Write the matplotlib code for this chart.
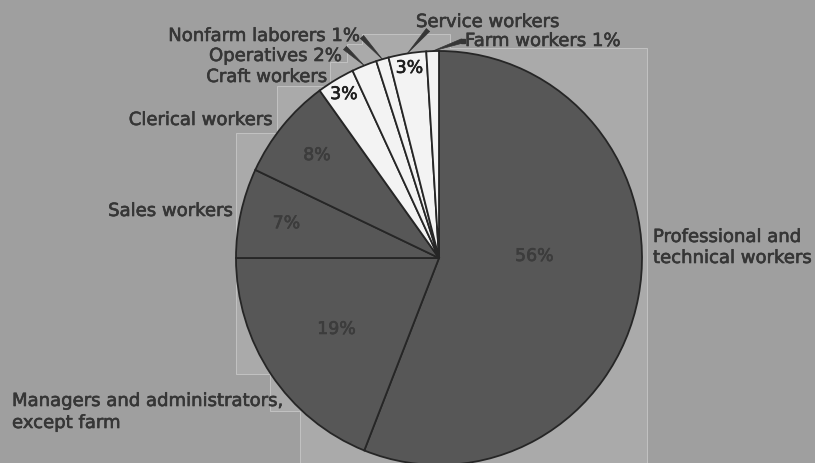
import numpy as np
import matplotlib.pyplot as plt
import matplotlib.patheffects as pe
from matplotlib.patches import Polygon

# Employment share by occupation group (percent)
categories = ["Professional and\ntechnical workers", "Managers and administrators,\nexcept farm",
              "Sales workers", "Clerical workers", "Craft workers", "Operatives",
              "Nonfarm laborers", "Service workers", "Farm workers"]
shares = [56, 19, 7, 8, 3, 2, 1, 3, 1]
shaded = [True, True, True, True, False, False, False, False, False]

W, H = 815, 464
BG = "#9f9f9f"
SCREEN = "#aaaaaa"
DARK = "#575757"
LIGHT = "#f3f3f3"
LINE = "#262626"
TEXT = "#363636"

fig = plt.figure(figsize=(W / 100, H / 100), dpi=100)
fig.patch.set_facecolor(BG)

# full-figure axes in pixel units for the screened backdrop, labels and leaders
bg = fig.add_axes([0, 0, 1, 1])
bg.set_xlim(0, W)
bg.set_ylim(H, 0)
bg.axis("off")
outline = [(362, 35), (450, 35), (450, 49), (647, 49), (647, 464), (300, 464), (300, 412),
           (270, 412), (270, 375), (236, 375), (236, 134), (277, 134), (277, 87), (330, 87),
           (330, 63), (347, 63), (347, 45), (362, 45)]
bg.add_patch(Polygon(outline, closed=True, fc=SCREEN, ec="#c2c2c2", lw=0.7, zorder=0))

# pie axes, slightly taller than wide like the printed chart
cx, cy, rx, ry = 439, 259, 203, 207
pie_ax = fig.add_axes([(cx - rx) / W, (H - cy - ry) / H, 2 * rx / W, 2 * ry / H])
wedges, _ = pie_ax.pie(shares, colors=[DARK if s else LIGHT for s in shaded],
                       startangle=90, counterclock=False,
                       wedgeprops=dict(edgecolor=LINE, linewidth=1.3))
pie_ax.set_aspect("auto")
pie_ax.set_xlim(-1, 1)
pie_ax.set_ylim(-1, 1)
pie_ax.axis("off")
for w in wedges:
    w.set_clip_on(False)


def mid_angle(i, shift=0.0):
    w = wedges[i]
    return np.deg2rad((w.theta1 + w.theta2) / 2 + shift)


def heavy(color):
    # thicken the glyphs a little, like a medium-weight face
    return [pe.withStroke(linewidth=0.45, foreground=color)]


# percentages printed inside the slices: (slice, radius, angle shift)
inner = [(0, 0.47, 12), (1, 0.61, 0), (2, 0.77, 0), (3, 0.78, 0), (4, 0.92, 0), (7, 0.93, 0)]
for i, r, shift in inner:
    a = mid_angle(i, shift)
    c = "#3c3c3c" if shaded[i] else "#1e1e1e"
    pie_ax.text(r * np.cos(a), r * np.sin(a), f"{shares[i]}%", ha="center", va="center",
                fontsize=12.5, color=c, path_effects=heavy(c))

# outer labels, positioned by baseline in pixel units
font = dict(fontsize=13, color=TEXT, va="baseline", path_effects=heavy(TEXT))
bg.text(653, 243, "Professional and", ha="left", **font)
bg.text(653, 264, "technical workers", ha="left", **font)
bg.text(12, 407, "Managers and administrators,", ha="left", **font)
bg.text(12, 429, "except farm", ha="left", **font)
bg.text(233, 217, categories[2], ha="right", **font)
bg.text(273, 126, categories[3], ha="right", **font)
bg.text(327, 83, categories[4], ha="right", **font)
bg.text(342, 62, f"{categories[5]} {shares[5]}%", ha="right", **font)
bg.text(360, 42, f"{categories[6]} {shares[6]}%", ha="right", **font)
bg.text(416, 28, categories[7], ha="left", **font)
bg.text(465, 47, f"{categories[8]} {shares[8]}%", ha="left", **font)

# leader lines from the small-slice labels to the rim
leaders = [(5, (345, 49)), (6, (362, 38)), (7, (428, 31)), (8, (462, 42))]
for i, start in leaders:
    a = mid_angle(i)
    bg.annotate("", xy=(np.cos(a), np.sin(a)), xycoords=pie_ax.transData,
                xytext=start, textcoords=bg.transData,
                arrowprops=dict(arrowstyle="wedge,tail_width=0.32", fc=TEXT, ec=TEXT,
                                lw=0.5, shrinkA=0, shrinkB=0))
bg.plot([463], [42], marker="s", ms=3.5, color=TEXT)

fig.savefig("out.png", dpi=100, facecolor=BG)
